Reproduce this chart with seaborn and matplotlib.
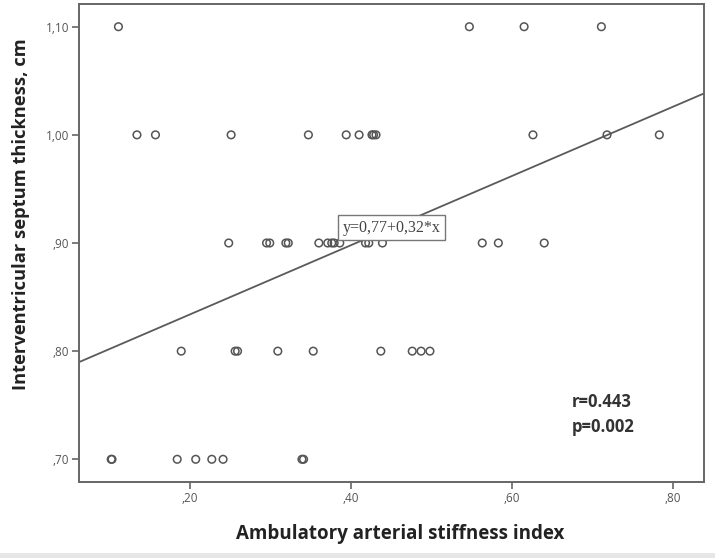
import numpy as np
import pandas as pd
import matplotlib
matplotlib.use("Agg")
import matplotlib.pyplot as plt
import seaborn as sns
from matplotlib.patches import Rectangle


# Data (x = AASI, y = IVS thickness in cm)
aasi_110 = [0.111, 0.547, 0.615, 0.711]
aasi_100 = [0.134, 0.157, 0.251, 0.347, 0.394, 0.410, 0.426, 0.428, 0.431,
            0.626, 0.718, 0.783]
aasi_090 = [0.248, 0.295, 0.299, 0.319, 0.322, 0.360, 0.371, 0.376, 0.379,
            0.386, 0.418, 0.422, 0.439, 0.563, 0.583, 0.640]
aasi_080 = [0.189, 0.256, 0.259, 0.309, 0.353, 0.437, 0.476, 0.487, 0.498]
aasi_070 = [0.102, 0.103, 0.184, 0.207, 0.227, 0.241, 0.339, 0.341]

ivs_levels = [1.10, 1.00, 0.90, 0.80, 0.70]

# fit line from the chart label
intercept = 0.77
slope = 0.32
fit_label = "y=0,77+0,32*x"
r_label = "r=0.443"
p_label = "p=0.002"

x_ticks = [0.20, 0.40, 0.60, 0.80]
x_ticklabels = [",20", ",40", ",60", ",80"]
y_ticks = [0.70, 0.80, 0.90, 1.00, 1.10]
y_ticklabels = [",70", ",80", ",90", "1,00", "1,10"]

groups = [aasi_110, aasi_100, aasi_090, aasi_080, aasi_070]
df = pd.DataFrame({
    "aasi": np.concatenate(groups),
    "ivs": np.concatenate([[lvl] * len(g) for lvl, g in zip(ivs_levels, groups)]),
})

sns.set_theme(style="white")
plt.rcParams["font.family"] = ["Open Sans", "DejaVu Sans"]

fig = plt.figure(figsize=(7.15, 5.58), dpi=100)
ax = fig.add_axes([79 / 715, 1 - 482 / 558, (704 - 79) / 715, (482 - 4) / 558])

xlim = (0.062, 0.8385)
ylim = (0.679, 1.121)

sns.scatterplot(data=df, x="aasi", y="ivs", ax=ax, marker="o", s=30,
                facecolors="none", edgecolor="#555555", linewidth=1.1, zorder=3)

line_x = np.array(xlim)
sns.lineplot(x=line_x, y=intercept + slope * line_x, ax=ax,
             color="#5a5a5a", linewidth=1.3, zorder=2)

ax.text(0.45, intercept + slope * 0.45, fit_label, family="Liberation Serif",
        fontsize=11.5, color="#444444", ha="center", va="center", zorder=5,
        bbox=dict(boxstyle="square,pad=0.28", fc="white", ec="#777777", lw=1))

# r / p in lower right
for lab, py in [(r_label, 402), (p_label, 427)]:
    ax.text((572 - 79) / 625, (482 - py) / 478, lab, transform=ax.transAxes,
            fontsize=12, fontweight="bold", color="#333333",
            ha="left", va="center")

ax.set_xlim(xlim)
ax.set_ylim(ylim)
ax.set_xticks(x_ticks)
ax.set_xticklabels(x_ticklabels)
ax.set_yticks(y_ticks)
ax.set_yticklabels(y_ticklabels)
ax.tick_params(axis="both", which="major", direction="out", length=5, width=1.2,
               color="#666666", labelsize=8.5, labelcolor="#555555", pad=2,
               bottom=True, left=True)

for sp in ax.spines.values():
    sp.set_color("#666666")
    sp.set_linewidth(1.4)

ax.set_xlabel("Ambulatory arterial stiffness index", fontsize=13.5,
              fontweight="bold", color="#222222")
ax.set_ylabel("Interventricular septum thickness, cm", fontsize=13.2,
              fontweight="bold", color="#222222")
ax.xaxis.set_label_coords((400 - 79) / 625, -(524 - 482) / 478)
ax.yaxis.set_label_coords(-(79 - 30) / 625, (482 - 214) / 478)

# light grey strip at the bottom edge of the screenshot
fig.patches.append(Rectangle((0, 0), 1, 5 / 558, transform=fig.transFigure,
                             fc="#e6e6e6", ec="none"))

fig.savefig("out.png", dpi=100)
